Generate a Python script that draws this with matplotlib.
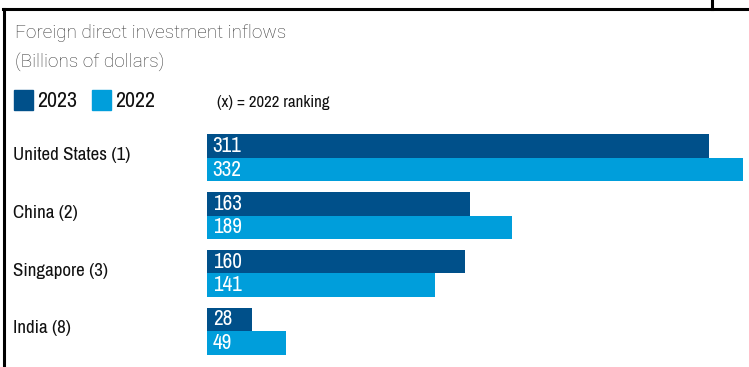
import os
import matplotlib.pyplot as plt
from matplotlib import font_manager as fm
from matplotlib.lines import Line2D
from matplotlib.patches import Rectangle
from matplotlib.textpath import TextPath
from matplotlib.transforms import blended_transform_factory

# FDI inflows, billions of dollars
countries = ['United States (1)', 'China (2)', 'Singapore (3)', 'India (8)']
fdi_2023 = [311, 163, 160, 28]
fdi_2022 = [332, 189, 141, 49]

dark = '#00508a'
light = '#009edb'


def ink(fp, s):
    bb = TextPath((0, 0), s, size=100, prop=fp).get_extents()
    return bb.width, bb.height


# condensed regular faces only
cands = [f for f in fm.fontManager.ttflist
         if (f.stretch in ('condensed', 'semi-condensed')
             or 'Narrow' in f.name or 'Condensed' in f.name)
         and f.weight in (400, 'normal', 'regular') and f.style == 'normal'
         and 'Italic' not in f.fname and 'Mono' not in f.name
         and 'Serif' not in f.name]
cands = [f for f in cands if os.path.getsize(f.fname) < 1_500_000][:60]

# pick the one closest in proportions, with lining figures
best, best_score = None, None
for f in cands:
    try:
        fp = fm.FontProperties(fname=f.fname)
        cap = ink(fp, 'H')[1]
        zero = ink(fp, '0')[1]
        w1 = ink(fp, '2023')[0]
        w2 = ink(fp, 'United States (1)')[0]
    except Exception:
        continue
    if cap <= 0 or not (0.95 < zero / cap < 1.12):
        continue
    score = abs(w1 / cap - 2.53) / 2.53 + abs(w2 / cap - 8.85) / 8.85
    if best_score is None or score < best_score:
        best, best_score = fp, score

if best is None:
    best = fm.FontProperties(family='Roboto')
cap100 = ink(best, 'H')[1]


def nf(cap_px):
    # size so that capitals are cap_px pixels tall at 100 dpi
    p = best.copy()
    p.set_size(cap_px * 72 / cap100)
    return p


W, H = 749, 367
fig = plt.figure(figsize=(W / 100, H / 100), dpi=100)


def px(x, y):
    return x / W, 1 - y / H


# bars area
h = 0.41
ax = fig.add_axes([207 / W, 1 - 355 / H, (W - 207) / W, (355 - 134) / H])
ypos = list(range(len(countries)))
ax.barh([y - h / 2 for y in ypos], fdi_2023, height=h, color=dark, edgecolor='none')
ax.barh([y + h / 2 for y in ypos], fdi_2022, height=h, color=light, edgecolor='none')
ax.set_xlim(0, (W - 207) / 1.614)
ax.set_ylim(len(countries) - 1 + h, -h)
ax.axis('off')

for y, v23, v22 in zip(ypos, fdi_2023, fdi_2022):
    ax.text(3.5, y - h / 2, str(v23), color='white', fontproperties=nf(14.5),
            va='center', ha='left')
    ax.text(3.5, y + h / 2, str(v22), color='white', fontproperties=nf(14.5),
            va='center', ha='left')

# country labels on the left, aligned to each group
tr = blended_transform_factory(fig.transFigure, ax.transData)
for y, name in zip(ypos, countries):
    fig.text(13 / W, y - 0.05, name, transform=tr, fontproperties=nf(13),
             color='#111111', va='center', ha='left')

# title
fig.text(*px(15, 33), 'Foreign direct investment inflows', fontsize=13.7,
         family='Roboto', weight='light', color='#3a3a3a', va='center')
fig.text(*px(15, 62), '(Billions of dollars)', fontsize=13.7,
         family='Roboto', weight='light', color='#3a3a3a', va='center')

# legend
for x0, col, lab in [(14, dark, '2023'), (92, light, '2022')]:
    fig.add_artist(Rectangle(px(x0, 110), 19 / W, 20 / H, transform=fig.transFigure,
                             color=col))
    fig.text(*px(x0 + 23, 101), lab, fontproperties=nf(15),
             color='#111111', va='center')
fig.text(*px(217, 103), '(x) = 2022 ranking', fontproperties=nf(11.5),
         color='#111111', va='center')

# frame lines
fig.add_artist(Line2D([4 / W, 4 / W], [0, 1 - 9 / H], color='black', lw=2.2))
fig.add_artist(Line2D([3 / W, 1], [1 - 9 / H, 1 - 9 / H], color='black', lw=2.2))
fig.add_artist(Line2D([712 / W, 712 / W], [1 - 9 / H, 1], color='black', lw=2.2))

fig.savefig('out.png', dpi=100)
